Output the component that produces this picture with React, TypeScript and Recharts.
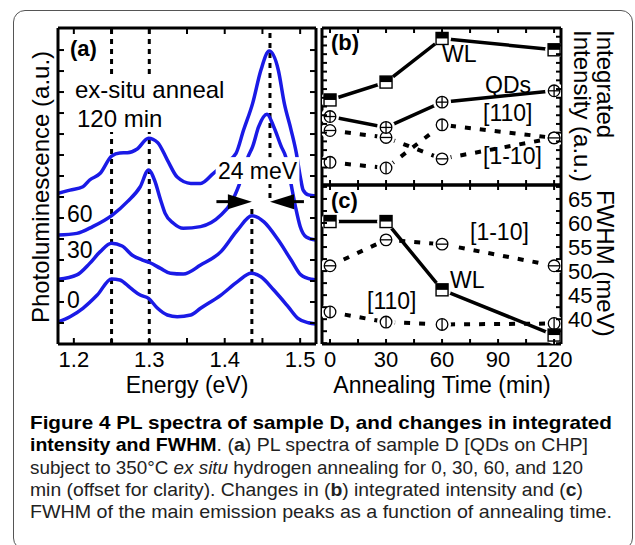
import React from "react";
import { LineChart, Line, XAxis, YAxis, ReferenceLine, ReferenceArea, ReferenceDot } from "recharts";

const FONT = "'Liberation Sans', Arial, Helvetica, sans-serif";
const BLUE = "#1a1ae6";

// (a) PL spectra (offset for clarity), energy in eV
const e0 = [1.179, 1.195, 1.212, 1.231, 1.25, 1.261, 1.275, 1.288, 1.299, 1.311, 1.324, 1.337, 1.355, 1.368, 1.395, 1.417, 1.435, 1.448, 1.465, 1.484, 1.497, 1.511, 1.521];
const pl0 = [1.06, 1.3, 1.7, 2.33, 3.1, 3.05, 2.67, 2.33, 2.17, 1.7, 1.38, 1.3, 1.38, 1.7, 2.33, 2.97, 3.37, 3.2, 2.57, 1.78, 1.22, 1.01, 0.95];
const e30 = [1.179, 1.204, 1.221, 1.235, 1.25, 1.264, 1.277, 1.291, 1.301, 1.315, 1.328, 1.345, 1.368, 1.395, 1.417, 1.436, 1.452, 1.471, 1.488, 1.501, 1.515, 1.521];
const pl30 = [3.08, 3.29, 3.84, 4.4, 4.8, 4.67, 4.24, 4.0, 3.87, 3.6, 3.37, 3.33, 3.76, 4.4, 5.43, 6.11, 5.82, 4.95, 4.0, 3.29, 3.08, 3.05];
const e60 = [1.179, 1.204, 1.225, 1.251, 1.271, 1.288, 1.299, 1.307, 1.315, 1.321, 1.332, 1.345, 1.368, 1.395, 1.408, 1.419, 1.431, 1.437, 1.445, 1.456, 1.465, 1.475, 1.481, 1.488, 1.494, 1.5, 1.508, 1.521];
const pl60 = [5.19, 5.27, 5.59, 6.14, 6.78, 7.49, 8.29, 7.8, 6.86, 6.22, 5.75, 5.51, 5.59, 6.14, 6.7, 7.57, 8.92, 9.4, 10.35, 10.94, 10.35, 9.4, 8.9, 7.6, 6.5, 5.6, 5.1, 4.95];
const e120 = [1.179, 1.195, 1.212, 1.221, 1.235, 1.25, 1.261, 1.271, 1.284, 1.299, 1.311, 1.324, 1.337, 1.355, 1.368, 1.385, 1.401, 1.415, 1.425, 1.437, 1.448, 1.459, 1.471, 1.479, 1.488, 1.495, 1.5, 1.504, 1.511, 1.521];
const pl120 = [7.18, 7.33, 7.49, 7.81, 8.13, 8.95, 9.1, 9.11, 9.29, 9.8, 9.6, 8.76, 7.95, 7.65, 7.65, 8.13, 8.62, 9.08, 10.19, 11.46, 13.05, 13.95, 13.05, 11.46, 10.19, 9.08, 8.0, 7.33, 7.1, 7.05];

const energyTicks = [1.2, 1.25, 1.3, 1.35, 1.4, 1.45, 1.5];
const plTicks = [1, 2, 3, 4, 5, 6, 7, 8, 9, 10, 11, 12, 13, 14];

// (b) integrated intensity and (c) FWHM vs annealing time
const times = [0, 30, 60, 120];
const intWL = [9.75, 11.8, 16.8, 15.5];
const intQD = [7.85, 6.6, 9.5, 10.8];
const int110 = [2.6, 1.95, 6.9, 5.4];
const int1m10 = [6.25, 5.45, 3.0, 5.4];
const fwhmWL = [60.3, 60.3, 46.1, 36.7];
const fwhm1m10 = [51.1, 56.5, 55.6, 51.1];
const fwhm110 = [41.5, 39.4, 38.9, 39.1];

const timeTicks = [0, 15, 30, 45, 60, 75, 90, 105, 120];
const intTicks = [1, 2, 3, 4, 5, 6, 7, 8, 9, 10, 11, 12, 13, 14, 15, 16, 17];
const fwhmTicks = [35, 37.5, 40, 42.5, 45, 47.5, 50, 52.5, 55, 57.5, 60, 62.5, 65, 67.5];

const toXY = (xs: number[], ys: number[]) => xs.map((e, i) => ({ e, v: ys[i] }));
const spectra = [toXY(e0, pl0), toXY(e30, pl30), toXY(e60, pl60), toXY(e120, pl120)];
const dataB = times.map((t, i) => ({ t, wl: intWL[i], qd: intQD[i], a110: int110[i], a1m10: int1m10[i] }));
const dataC = times.map((t, i) => ({ t, wl: fwhmWL[i], a110: fwhm110[i], a1m10: fwhm1m10[i] }));

const axisStyle = { stroke: "#000", strokeWidth: 3 };
const txt = { fontFamily: FONT, fontSize: 23, fill: "#000" };

// inward-pointing ticks, labels outside
const tickBottom = (len: number, fmt?: (v: number) => string | null) => (p: any) => {
  const lab = fmt ? fmt(p.payload.value) : null;
  return (
    <g>
      <line x1={p.x} x2={p.x} y1={p.y} y2={p.y - len} stroke="#000" strokeWidth={2} />
      {lab ? <text x={p.x} y={p.y + 23} textAnchor="middle" {...txt} fontSize={22}>{lab}</text> : null}
    </g>
  );
};
const tickTop = (len: number) => (p: any) => (
  <line x1={p.x} x2={p.x} y1={p.y} y2={p.y + len} stroke="#000" strokeWidth={2} />
);
const tickLeft = (len: number) => (p: any) => (
  <line x1={p.x} x2={p.x + len} y1={p.y} y2={p.y} stroke="#000" strokeWidth={2} />
);
const tickRight = (len: number, fmt?: (v: number) => string | null) => (p: any) => {
  const lab = fmt ? fmt(p.payload.value) : null;
  return (
    <g>
      <line x1={p.x} x2={p.x - len} y1={p.y} y2={p.y} stroke="#000" strokeWidth={2} />
      {lab ? <text x={p.x + 7} y={p.y + 8} textAnchor="start" {...txt} fontSize={22}>{lab}</text> : null}
    </g>
  );
};

type MarkKind = "sq" | "plus" | "h" | "v";
const Marker = ({ cx, cy, kind }: { cx: number; cy: number; kind: MarkKind }) => {
  if (kind === "sq") {
    return (
      <g>
        <rect x={cx - 6} y={cy - 6} width={12} height={12} fill="#fff" stroke="#000" strokeWidth={1.4} />
        <rect x={cx - 6} y={cy - 6} width={12} height={6} fill="#000" />
      </g>
    );
  }
  const r = 5.8;
  return (
    <g>
      <circle cx={cx} cy={cy} r={r} fill="#fff" stroke="#000" strokeWidth={1.3} />
      {kind !== "v" ? <line x1={cx - r} x2={cx + r} y1={cy} y2={cy} stroke="#000" strokeWidth={1.3} /> : null}
      {kind !== "h" ? <line x1={cx} x2={cx} y1={cy - r} y2={cy + r} stroke="#000" strokeWidth={1.3} /> : null}
    </g>
  );
};
const markDot = (kind: MarkKind) => (p: any) => <Marker key={`${kind}-${p.index}`} cx={p.cx} cy={p.cy} kind={kind} />;
const haloDot = (p: any) => <circle key={`halo-${p.index}`} cx={p.cx} cy={p.cy} r={9} fill="#fff" />;

const energyLabel = (v: number) => (Math.abs(v * 10 - Math.round(v * 10)) < 1e-6 ? v.toFixed(1) : null);
const timeLabel = (v: number) => (v % 30 === 0 ? String(v) : null);
const fwhmLabel = (v: number) => (v % 5 === 0 && v >= 40 && v <= 65 ? String(v) : null);

const arrowRight = (p: any) => (
  <polygon points={`${p.cx},${p.cy} ${p.cx - 24},${p.cy - 7.5} ${p.cx - 24},${p.cy + 7.5}`} fill="#000" />
);
const arrowLeft = (p: any) => (
  <polygon points={`${p.cx},${p.cy} ${p.cx + 24},${p.cy - 7.5} ${p.cx + 24},${p.cy + 7.5}`} fill="#000" />
);
const whiteBox = (p: any) => (
  <g>
    <rect x={p.x} y={p.y} width={p.width} height={p.height} fill="#fff" />
    <text x={p.x + p.width / 2} y={p.y + p.height / 2 + 8} textAnchor="middle" {...txt}>24 meV</text>
  </g>
);

const E_DOM: [number, number] = [1.179, 1.521];
const PL_DOM: [number, number] = [0, 15.05];
const T_DOM: [number, number] = [-4.3, 123.7];

const PanelA = () => (
  <LineChart width={635} height={545} margin={{ top: 27, right: 318, bottom: 200, left: 57 }}>
    <ReferenceLine xAxisId="b" yAxisId="l" x={1.25} stroke="#000" strokeWidth={3} strokeDasharray="5 5" />
    <ReferenceLine xAxisId="b" yAxisId="l" x={1.3} stroke="#000" strokeWidth={3} strokeDasharray="5 5" />
    <ReferenceLine xAxisId="b" yAxisId="l" segment={[{ x: 1.46, y: 6.95 }, { x: 1.46, y: 15.05 }]} stroke="#000" strokeWidth={3} strokeDasharray="5 5" />
    <ReferenceLine xAxisId="b" yAxisId="l" segment={[{ x: 1.436, y: 0 }, { x: 1.436, y: 6.6 }]} stroke="#000" strokeWidth={3} strokeDasharray="5 5" />
    {spectra.map((d, i) => (
      <Line key={i} xAxisId="b" yAxisId="l" data={d} dataKey="v" type="monotone" stroke={BLUE} strokeWidth={3.5} dot={false} isAnimationActive={false} />
    ))}
    <ReferenceArea xAxisId="b" yAxisId="l" x1={1.388} x2={1.499} y1={7.62} y2={8.9} zIndex={1500} shape={whiteBox} />
    <ReferenceLine xAxisId="b" yAxisId="l" segment={[{ x: 1.389, y: 6.78 }, { x: 1.42, y: 6.78 }]} stroke="#000" strokeWidth={3} />
    <ReferenceLine xAxisId="b" yAxisId="l" segment={[{ x: 1.475, y: 6.78 }, { x: 1.505, y: 6.78 }]} stroke="#000" strokeWidth={3} />
    <ReferenceDot xAxisId="b" yAxisId="l" x={1.436} y={6.78} r={0} shape={arrowRight} />
    <ReferenceDot xAxisId="b" yAxisId="l" x={1.46} y={6.78} r={0} shape={arrowLeft} />
    <XAxis xAxisId="b" dataKey="e" type="number" domain={E_DOM} allowDataOverflow ticks={energyTicks} interval={0} height={1} tickSize={0} tickMargin={0} tickLine={false} axisLine={axisStyle} tick={tickBottom(6, energyLabel)} />
    <XAxis xAxisId="t" orientation="top" dataKey="e" type="number" domain={E_DOM} allowDataOverflow ticks={energyTicks} interval={0} height={1} tickSize={0} tickMargin={0} tickLine={false} axisLine={axisStyle} tick={tickTop(6)} />
    <YAxis yAxisId="l" type="number" domain={PL_DOM} allowDataOverflow ticks={plTicks} interval={0} width={1} tickSize={0} tickMargin={0} tickLine={false} axisLine={axisStyle} tick={tickLeft(6)} />
    <YAxis yAxisId="r" orientation="right" type="number" domain={PL_DOM} allowDataOverflow ticks={plTicks} interval={0} width={1} tickSize={0} tickMargin={0} tickLine={false} axisLine={axisStyle} tick={tickRight(6)} />
  </LineChart>
);

const seriesB: { key: string; kind: MarkKind; dotted: boolean }[] = [
  { key: "a110", kind: "v", dotted: true },
  { key: "a1m10", kind: "h", dotted: true },
  { key: "qd", kind: "plus", dotted: false },
  { key: "wl", kind: "sq", dotted: false },
];
const seriesC: { key: string; kind: MarkKind; dotted: boolean }[] = [
  { key: "a110", kind: "v", dotted: true },
  { key: "a1m10", kind: "h", dotted: true },
  { key: "wl", kind: "sq", dotted: false },
];

const timeSeries = (series: { key: string; kind: MarkKind; dotted: boolean }[]) => [
  ...series.map((s) => (
    <Line key={`l-${s.key}`} xAxisId="b" yAxisId="l" dataKey={s.key} type="linear" stroke="#000"
      strokeWidth={s.dotted ? 4 : 3.5} strokeDasharray={s.dotted ? "6 9" : undefined} dot={false} isAnimationActive={false} />
  )),
  ...series.map((s) => (
    <Line key={`h-${s.key}`} xAxisId="b" yAxisId="l" dataKey={s.key} stroke="none" dot={haloDot} isAnimationActive={false} />
  )),
  ...series.map((s) => (
    <Line key={`m-${s.key}`} xAxisId="b" yAxisId="l" dataKey={s.key} stroke="none" dot={markDot(s.kind)} isAnimationActive={false} />
  )),
];

const PanelB = () => (
  <LineChart width={635} height={545} data={dataB} margin={{ top: 27, right: 73, bottom: 359, left: 321 }}>
    {timeSeries(seriesB)}
    <XAxis xAxisId="b" dataKey="t" type="number" domain={T_DOM} allowDataOverflow ticks={timeTicks} interval={0} height={1} tickSize={0} tickMargin={0} tickLine={false} axisLine={axisStyle} tick={tickBottom(5)} />
    <XAxis xAxisId="t" orientation="top" dataKey="t" type="number" domain={T_DOM} allowDataOverflow ticks={timeTicks} interval={0} height={1} tickSize={0} tickMargin={0} tickLine={false} axisLine={axisStyle} tick={tickTop(5)} />
    <YAxis yAxisId="l" type="number" domain={[0, 18]} allowDataOverflow ticks={intTicks} interval={0} width={1} tickSize={0} tickMargin={0} tickLine={false} axisLine={axisStyle} tick={tickLeft(5)} />
    <YAxis yAxisId="r" orientation="right" type="number" domain={[0, 18]} allowDataOverflow ticks={intTicks} interval={0} width={1} tickSize={0} tickMargin={0} tickLine={false} axisLine={axisStyle} tick={tickRight(5)} />
  </LineChart>
);

const PanelC = () => (
  <LineChart width={635} height={545} data={dataC} margin={{ top: 184, right: 73, bottom: 200, left: 321 }}>
    {timeSeries(seriesC)}
    <XAxis xAxisId="b" dataKey="t" type="number" domain={T_DOM} allowDataOverflow ticks={timeTicks} interval={0} height={1} tickSize={0} tickMargin={0} tickLine={false} axisLine={axisStyle} tick={tickBottom(5, timeLabel)} />
    <XAxis xAxisId="t" orientation="top" dataKey="t" type="number" domain={T_DOM} allowDataOverflow ticks={timeTicks} interval={0} height={1} tickSize={0} tickMargin={0} tickLine={false} axisLine={axisStyle} tick={tickTop(5)} />
    <YAxis yAxisId="l" type="number" domain={[34.84, 67.9]} allowDataOverflow ticks={fwhmTicks} interval={0} width={1} tickSize={0} tickMargin={0} tickLine={false} axisLine={axisStyle} tick={tickLeft(5)} />
    <YAxis yAxisId="r" orientation="right" type="number" domain={[34.84, 67.9]} allowDataOverflow ticks={fwhmTicks} interval={0} width={1} tickSize={0} tickMargin={0} tickLine={false} axisLine={axisStyle} tick={tickRight(5, fwhmLabel)} />
  </LineChart>
);

const abs: React.CSSProperties = { position: "absolute", left: 0, top: 0 };
const fit = { lengthAdjust: "spacingAndGlyphs" as const };

export default function App() {
  return (
    <div style={{ position: "absolute", left: 0, top: 0, width: 635, height: 545, background: "#fff", overflow: "hidden" }}>
      <div style={{ position: "absolute", left: 13, top: 10, width: 620, height: 540, border: "1.5px solid #555", borderRadius: 12, boxSizing: "border-box" }} />
      <div style={abs}><PanelA /></div>
      <div style={abs}><PanelB /></div>
      <div style={abs}><PanelC /></div>
      <svg width={635} height={545} style={{ ...abs, pointerEvents: "none" }}>
        <rect x={72} y={77} width={154} height={55} fill="#fff" />
        <g {...txt}>
          <text x={70} y={56} fontWeight="bold" fontSize={22}>(a)</text>
          <text x={75} y={98} fontSize={24}>ex-situ anneal</text>
          <text x={77} y={127} fontSize={24}>120 min</text>
          <text x={67} y={222}>60</text>
          <text x={67} y={258}>30</text>
          <text x={67} y={308}>0</text>
          <text x={187} y={393} textAnchor="middle" fontSize={23}>Energy (eV)</text>
          <text x={49} y={187} textAnchor="middle" fontSize={24} transform="rotate(-90 49 187)">Photoluminescence (a.u.)</text>

          <text x={331} y={50} fontWeight="bold" fontSize={22}>(b)</text>
          <text x={442} y={62}>WL</text>
          <text x={485} y={93}>QDs</text>
          <text x={483} y={121}>[110]</text>
          <text x={483} y={164}>[1-10]</text>
          <text x={597} y={30} fontSize={24} transform="rotate(90 597 30)">Integrated</text>
          <text x={574} y={30} fontSize={24} transform="rotate(90 574 30)">Intensity (a.u.)</text>

          <text x={331} y={208} fontWeight="bold" fontSize={22}>(c)</text>
          <text x={470} y={240}>[1-10]</text>
          <text x={450} y={288}>WL</text>
          <text x={367} y={309}>[110]</text>
          <text x={597} y={190} fontSize={24} transform="rotate(90 597 190)">FWHM (meV)</text>
          <text x={442} y={393} textAnchor="middle" fontSize={23}>Annealing Time (min)</text>
        </g>
        <g fontFamily={FONT} fontSize={19} fill="#222">
          <text x={30} y={429} fontWeight="bold" fill="#000" textLength={582} {...fit}>Figure 4 PL spectra of sample D, and changes in integrated</text>
          <text x={30} y={451} textLength={558} {...fit}>
            <tspan fontWeight="bold" fill="#000">intensity and FWHM</tspan>. (<tspan fontWeight="bold">a</tspan>) PL spectra of sample D [QDs on CHP]
          </text>
          <text x={30} y={474} textLength={553} {...fit}>
            subject to 350°C <tspan fontStyle="italic">ex situ</tspan> hydrogen annealing for 0, 30, 60, and 120
          </text>
          <text x={30} y={496} textLength={553} {...fit}>
            min (offset for clarity). Changes in (<tspan fontWeight="bold">b</tspan>) integrated intensity and (<tspan fontWeight="bold">c</tspan>)
          </text>
          <text x={30} y={518} textLength={582} {...fit}>FWHM of the main emission peaks as a function of annealing time.</text>
        </g>
      </svg>
    </div>
  );
}
